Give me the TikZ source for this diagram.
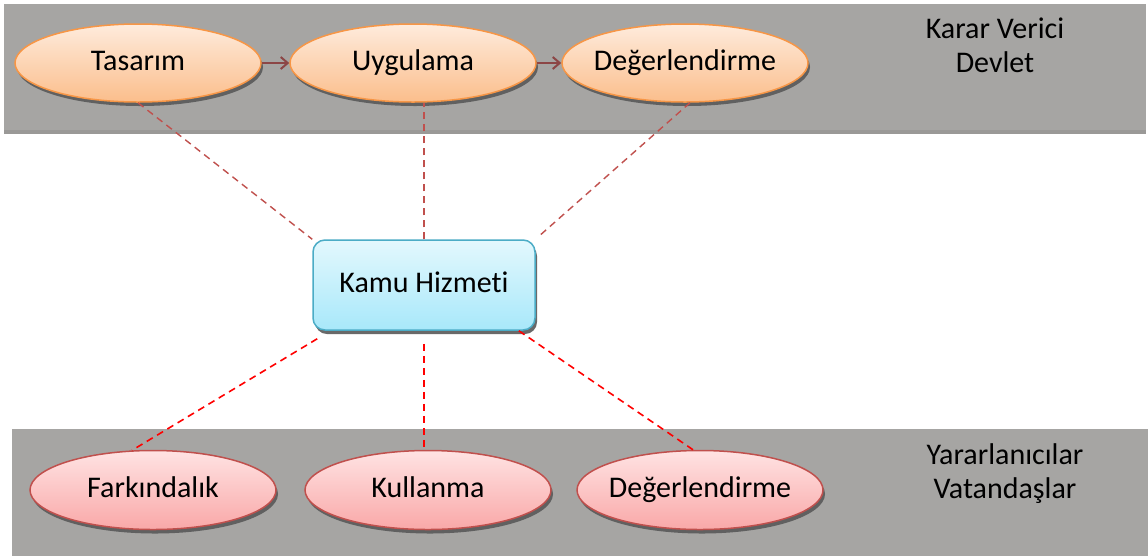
\documentclass[tikz,border=0pt]{standalone}
\usepackage{fontspec}
\setmainfont{Carlito}[Ligatures=NoCommon]
\usetikzlibrary{shapes.geometric,shadows,arrows.meta}
\definecolor{band}{HTML}{A6A5A3}
\definecolor{bandedge}{HTML}{9A9997}
\definecolor{orangeline}{HTML}{F79646}
\definecolor{orangetop}{HTML}{FEEBDC}
\definecolor{orangebot}{HTML}{FBBE8C}
\definecolor{redline}{HTML}{C0504D}
\definecolor{redtop}{HTML}{FFE3E3}
\definecolor{redbot}{HTML}{F9A8A8}
\definecolor{cyanline}{HTML}{4BACC6}
\definecolor{cyantop}{HTML}{E3F8FD}
\definecolor{cyanbot}{HTML}{A8E8FA}
\definecolor{arrowcol}{HTML}{8C4646}
\definecolor{topdash}{HTML}{C0504D}
\definecolor{botdash}{HTML}{FF0000}
\tikzset{
  lbl/.style={font=\fontsize{30}{34}\selectfont, align=center, text=black},
  fixt/.style={text height=20pt, text depth=6pt},
  shad/.style={drop shadow={shadow xshift=2pt, shadow yshift=-4pt, fill=black!65, opacity=0.9}},
  topell/.style={ellipse, draw=orangeline, line width=1.5pt, top color=orangetop, bottom color=orangebot,
     minimum width=246pt, minimum height=78pt, inner ysep=0pt, inner xsep=-30pt, shad, lbl, fixt},
  botell/.style={ellipse, draw=redline, line width=1.5pt, top color=redtop, bottom color=redbot,
     minimum width=246pt, minimum height=79pt, inner ysep=0pt, inner xsep=-30pt, shad, lbl, fixt},
  kbox/.style={rectangle, rounded corners=12pt, draw=cyanline, line width=1.5pt, top color=cyantop, bottom color=cyanbot,
     minimum width=222pt, minimum height=90pt, inner sep=0pt, shad, lbl, fixt},
  flowarrow/.style={draw=arrowcol, line width=2pt, -{Straight Barb[length=7pt,width=12pt]}},
  topline/.style={draw=topdash, line width=1.4pt, dash pattern=on 7pt off 5pt},
  botline/.style={draw=botdash, line width=1.6pt, dash pattern=on 7pt off 5pt},
}
\begin{document}
\begin{tikzpicture}[x=1pt,y=-1pt]
\useasboundingbox (0,0) rectangle (1148,558);
\fill[white] (0,0) rectangle (1148,558);
% bands
\fill[band] (4,4) rectangle (1146,134);
\fill[bandedge] (4,130) rectangle (1146,134);
\fill[band] (12,429) rectangle (1148,556);
% top nodes
\node[topell] (tas) at (138,63) {Tasarım};
\node[topell] (uyg) at (413,63) {Uygulama};
\node[topell] (deg1) at (685,63) {Değerlendirme};
\node[lbl] (karar) at (995,45) {Karar Verici\\Devlet};
% centre
\node[kbox] (kamu) at (424,285) {Kamu Hizmeti};
% bottom nodes
\node[botell] (fark) at (153,490) {Farkındalık};
\node[botell] (kull) at (428,490) {Kullanma};
\node[botell] (deg2) at (700,490) {Değerlendirme};
\node[lbl] (yarar) at (1005,474) {Yararlanıcılar\\Vatandaşlar};
% flow arrows
\draw[flowarrow] (tas.east) -- (uyg.west);
\draw[flowarrow] (uyg.east) -- (deg1.west);
% dashed links
\draw[topline] (tas.south) -- (kamu.north west);
\draw[topline] (kamu.north) -- (kamu.north |- uyg.south);
\draw[topline] ([xshift=5pt]deg1.south) -- ([xshift=2pt,yshift=2pt]kamu.north east);
\draw[botline] ([xshift=5pt,yshift=-8pt]kamu.south west) -- (fark.118);
\draw[botline] ([yshift=-13pt]kamu.south) -- (kamu.south |- kull.north);
\draw[botline] ([xshift=-17pt]kamu.south east) -- ([xshift=-7pt]deg2.north);
\end{tikzpicture}
\end{document}
